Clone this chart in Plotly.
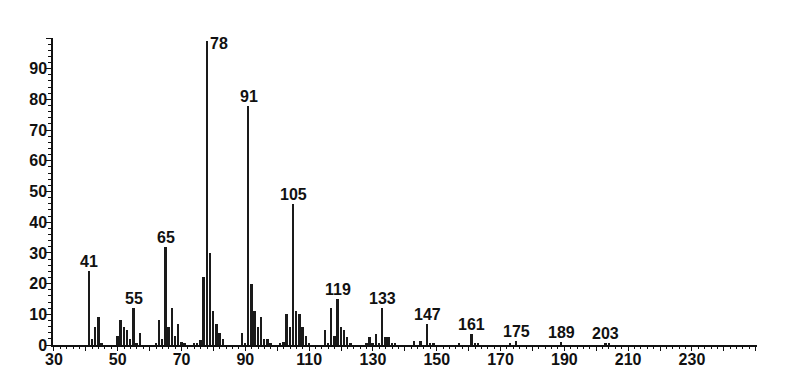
import plotly.graph_objects as go

# m/z values and relative intensities (%)
mz = [41, 42, 43, 44, 45,
      50, 51, 52, 53, 54, 55, 56, 57,
      62, 63, 64, 65, 66, 67, 68, 69, 70, 71,
      74, 75, 76, 77, 78, 79, 80, 81, 82, 83,
      89, 90, 91, 92, 93, 94, 95, 96, 97, 98,
      101, 102, 103, 104, 105, 106, 107, 108, 109, 110,
      115, 116, 117, 118, 119, 120, 121, 122, 123,
      128, 129, 130, 131, 132, 133, 134, 135, 136, 137,
      143, 145, 147, 148, 149, 157,
      161, 162, 163, 173, 175, 189, 203, 204]
intensity = [24, 2, 6, 9, 0.6,
             3, 8, 6, 5, 2, 12, 0.8, 4,
             0.6, 8, 2, 32, 6, 12, 3, 7, 1, 0.8,
             0.6, 0.6, 1.5, 22, 99, 30, 11, 7, 4, 2,
             4, 0.5, 78, 20, 11, 6, 9, 2, 2, 0.8,
             0.5, 1, 10, 6, 46, 11, 10, 6, 3, 0.5,
             5, 0.6, 12, 3, 15, 6, 5, 2.5, 0.5,
             0.7, 2.5, 0.7, 3.5, 0.6, 12, 2.5, 2.5, 0.6, 0.6,
             1.3, 1.3, 7, 0.6, 0.5, 0.5,
             3.5, 0.6, 0.6, 0.4, 1.2, 1.0, 0.6, 0.6]

# labelled peaks
peak_labels = [41, 55, 65, 78, 91, 105, 119, 133, 147, 161, 175, 189, 203]

x_tickvals = list(range(30, 251, 10))
x_ticktext = [str(v) if (v - 30) % 20 == 0 and v <= 230 else "" for v in x_tickvals]
y_tickvals = list(range(0, 101, 10))
y_ticktext = [str(v) if v <= 90 else "" for v in y_tickvals]

inten_map = dict(zip(mz, intensity))

fig = go.Figure()
fig.add_trace(go.Bar(x=mz, y=intensity, width=0.6,
                     marker=dict(color="#1a1a1a", line=dict(width=0)),
                     hoverinfo="x+y"))

font_lbl = dict(family="Liberation Sans, Arial, sans-serif", size=16, color="#111", weight="bold")
for p in peak_labels:
    h = inten_map[p]
    if p == 78:
        fig.add_annotation(x=p, y=h, text=str(p), showarrow=False,
                           xanchor="left", yanchor="middle", xshift=1, yshift=-2, font=font_lbl)
    else:
        fig.add_annotation(x=p, y=h, text=str(p), showarrow=False,
                           xanchor="center", yanchor="bottom", yshift=-1, font=font_lbl)

tick_font = dict(family="Liberation Sans, Arial, sans-serif", size=16, color="#111", weight="bold")
fig.update_xaxes(range=[29.7, 250.4], tickmode="array", tickvals=x_tickvals, ticktext=x_ticktext,
                 ticks="outside", ticklen=4, tickwidth=1.3, tickcolor="#111", ticklabelstandoff=-5,
                 showline=True, linecolor="#111", linewidth=1.5, showgrid=False, zeroline=False,
                 tickfont=tick_font, minor=dict(dtick=2, tick0=30, ticks="outside", ticklen=2,
                                                tickcolor="#111", tickwidth=1, showgrid=False))
fig.update_yaxes(range=[0, 100], tickmode="array", tickvals=y_tickvals, ticktext=y_ticktext,
                 ticks="outside", ticklen=5, tickwidth=1.3, tickcolor="#111", ticklabelstandoff=-4,
                 showline=True, linecolor="#111", linewidth=1.5, showgrid=False, zeroline=False,
                 tickfont=tick_font, minor=dict(dtick=2, tick0=0, ticks="outside", ticklen=3,
                                                tickcolor="#111", tickwidth=1, showgrid=False))
fig.update_layout(width=792, height=387, margin=dict(l=53, r=35, t=38, b=42),
                  plot_bgcolor="white", paper_bgcolor="white", showlegend=False,
                  bargap=0, font=dict(family="Liberation Sans, Arial, sans-serif"))
fig.write_html("out.html")
